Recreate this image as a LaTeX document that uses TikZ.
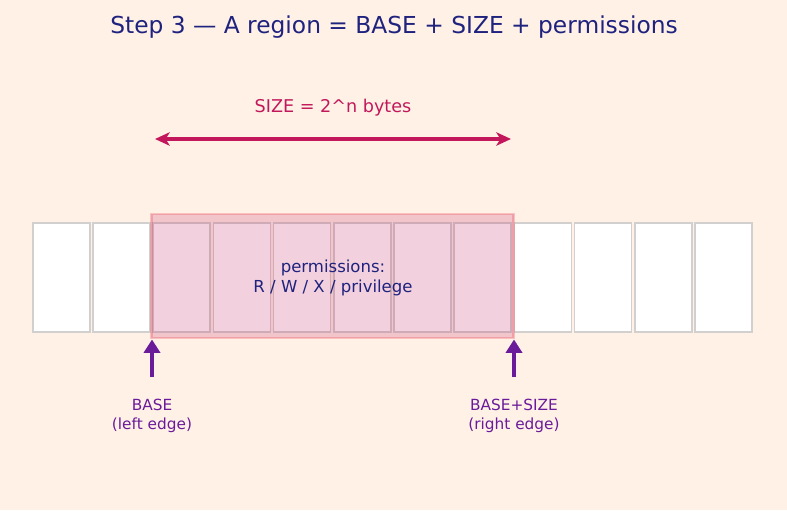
\documentclass[tikz,border=0pt]{standalone}
\usepackage{fontspec}
\setmainfont{DejaVu Sans}
\usetikzlibrary{arrows.meta}

\definecolor{bgcream}{HTML}{FFF1E6}
\definecolor{navy}{HTML}{1F237E}
\definecolor{crimson}{HTML}{C2185B}
\definecolor{grape}{HTML}{6A1B9A}
\definecolor{cellgray}{HTML}{D2D0CE}

\begin{document}
\begin{tikzpicture}[x=0.75pt,y=-0.75pt,
  cell/.style={draw=cellgray,fill=white,line width=1.2pt,anchor=north west,
    minimum width=42.75pt,minimum height=81.75pt,inner sep=0pt},
  region/.style={fill=crimson,fill opacity=0.2,draw=red!60!crimson,draw opacity=0.2,
    line width=2.2pt,text opacity=1,text=navy,align=center,
    minimum width=272pt,minimum height=93pt,inner sep=0pt,
    font=\fontsize{12.4}{15}\selectfont},
  sizearrow/.style={crimson,line width=2.8pt,
    {Stealth[length=11pt,width=10pt,inset=3pt]}-{Stealth[length=11pt,width=10pt,inset=3pt]}},
  edgearrow/.style={grape,line width=2.8pt,-{Triangle[length=10pt,width=12pt]}},
  edgelabel/.style={grape,align=center,font=\fontsize{11.5}{14}\selectfont}]
  \useasboundingbox[fill=bgcream] (0,0) rectangle (787,510);

  \node[navy,font=\fontsize{17.5}{21}\selectfont] (title) at (394,27) {Step 3 — A region = BASE + SIZE + permissions};

  % memory cells
  \foreach \i in {0,...,11}
    \node[cell] (c\i) at ({32+60.2*\i},222) {};

  % the region on top of the cells
  \node[region] (reg) at (332.5,276) {};
  \node[navy,align=center,font=\fontsize{12.4}{15}\selectfont] (perm) at (333,278) {permissions:\\R / W / X / privilege};

  % size of the region
  \node[crimson,font=\fontsize{13.2}{16}\selectfont] (sizelbl) at (333,108) {SIZE = 2\^{}n bytes};
  \coordinate (sl) at (155,139);
  \coordinate (sr) at (511,139);
  \draw[sizearrow] (sl) -- (sr);

  % both edges
  \node[edgelabel] (base) at (152,416) {BASE\\(left edge)};
  \node[edgelabel] (top) at (514,416) {BASE+SIZE\\(right edge)};
  \coordinate (b0) at (152,377);
  \coordinate (t0) at (514,377);
  \draw[edgearrow] (b0) -- (b0 |- reg.south);
  \draw[edgearrow] (t0) -- (t0 |- reg.south);
\end{tikzpicture}
\end{document}
